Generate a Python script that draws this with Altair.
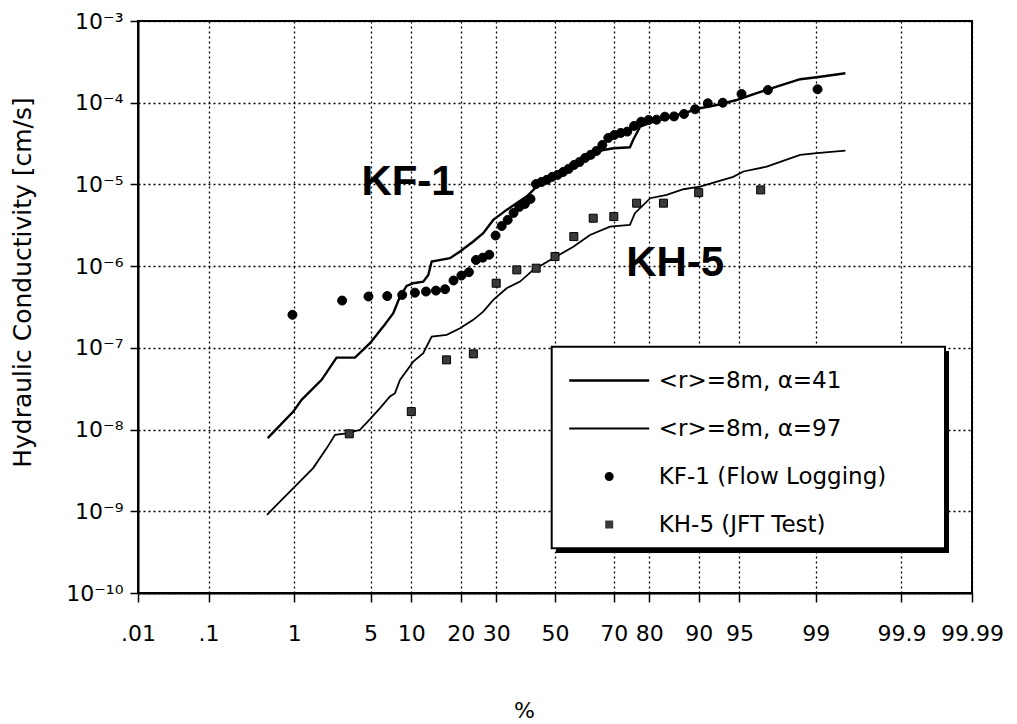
import altair as alt
import pandas as pd
from statistics import NormalDist

SERIES = ["<r>=8m, α=41", "<r>=8m, α=97", "KF-1 (Flow Logging)", "KH-5 (JFT Test)"]

# simulated curve <r>=8m, alpha=41 (percent, K in cm/s)
A41_P = [0.52, 0.98, 1.19, 1.87, 2.57, 3.72, 4.95, 6.28, 7.46, 8.34, 9.29, 10.31, 12.0, 12.92,
         13.57, 17.44, 19.85, 23.3, 26.1, 29.1, 33.3, 40.0, 43.5, 49.4, 56.5, 61.1, 66.7, 69.9,
         74.8, 75.7, 77.6, 81.0, 87.4, 90.2, 92.54, 94.75, 96.4, 97.6, 98.56, 99.02, 99.52]
A41_K = [7.85e-9, 1.66e-8, 2.31e-8, 4.06e-8, 7.6e-8, 7.6e-8, 1.14e-7, 1.82e-7, 2.66e-7, 4.25e-7,
         5.73e-7, 6.18e-7, 6.47e-7, 7.82e-7, 1.14e-6, 1.25e-6, 1.51e-6, 2.0e-6, 2.53e-6, 3.68e-6,
         4.88e-6, 7.1e-6, 9.4e-6, 1.19e-5, 1.73e-5, 2.19e-5, 2.64e-5, 2.77e-5, 2.85e-5, 3.5e-5,
         5.09e-5, 5.86e-5, 7.43e-5, 8.55e-5, 9.38e-5, 1.08e-4, 1.31e-4, 1.57e-4, 1.94e-4, 2.05e-4,
         2.29e-4]

# simulated curve <r>=8m, alpha=97
A97_P = [0.51, 0.98, 1.55, 2.09, 2.49, 3.26, 4.10, 4.95, 5.93, 7.05, 7.68, 8.34, 10.31, 12.0,
         13.57, 16.7, 19.84, 23.3, 26.1, 29.1, 33.3, 37.75, 42.3, 49.4, 56.5, 62.25, 68.8, 74.8,
         76.2, 80.2, 84.05, 87.4, 90.2, 94.4, 95.35, 97.05, 98.56, 99.02, 99.52]
A97_K = [9.06e-10, 1.92e-9, 3.38e-9, 5.93e-9, 8.63e-9, 9.05e-9, 9.94e-9, 1.34e-8, 1.83e-8,
         2.54e-8, 2.79e-8, 4.06e-8, 6.79e-8, 8.6e-8, 1.37e-7, 1.44e-7, 1.74e-7, 2.2e-7, 2.78e-7,
         3.86e-7, 5.37e-7, 6.47e-7, 9.0e-7, 1.25e-6, 1.73e-6, 2.41e-6, 3.05e-6, 3.2e-6, 4.45e-6,
         6.78e-6, 7.45e-6, 8.73e-6, 9.4e-6, 1.24e-5, 1.44e-5, 1.65e-5, 2.3e-5, 2.41e-5, 2.59e-5]

# KF-1 flow logging measurements
KF1_P = [0.96, 2.88, 4.81, 6.73, 8.65, 10.58, 12.50, 14.42, 16.35, 18.27, 20.19, 22.12, 24.04,
         25.96, 27.88, 29.81, 31.73, 33.65, 35.58, 37.50, 39.42, 41.35, 43.27, 45.19, 47.12,
         49.04, 50.96, 52.88, 54.81, 56.73, 58.65, 60.58, 62.50, 64.42, 66.35, 68.27, 70.19,
         72.12, 74.04, 75.96, 77.88, 79.81, 81.73, 83.65, 85.58, 87.50, 89.42, 91.35, 93.27,
         95.19, 97.12, 99.04]
KF1_K = [2.54e-7, 3.79e-7, 4.25e-7, 4.3e-7, 4.45e-7, 4.74e-7, 4.89e-7, 5.02e-7, 5.22e-7, 6.67e-7,
         7.67e-7, 8.43e-7, 1.19e-6, 1.27e-6, 1.38e-6, 2.37e-6, 3.10e-6, 3.68e-6, 4.48e-6, 5.31e-6,
         5.77e-6, 6.65e-6, 1.01e-5, 1.07e-5, 1.14e-5, 1.24e-5, 1.31e-5, 1.42e-5, 1.55e-5, 1.73e-5,
         1.88e-5, 2.11e-5, 2.30e-5, 2.57e-5, 3.04e-5, 3.71e-5, 4.04e-5, 4.27e-5, 4.43e-5, 5.20e-5,
         5.86e-5, 6.15e-5, 6.2e-5, 6.75e-5, 6.8e-5, 7.28e-5, 8.32e-5, 9.84e-5, 1.00e-4, 1.28e-4,
         1.43e-4, 1.46e-4]

# KH-5 JFT test measurements
KH5_P = [3.33, 10.0, 16.67, 23.33, 30.0, 36.67, 43.33, 50.0, 56.67, 63.33, 70.0, 76.67, 83.33,
         90.0, 96.67]
KH5_K = [8.87e-9, 1.66e-8, 7.13e-8, 8.45e-8, 6.18e-7, 9.0e-7, 9.44e-7, 1.31e-6, 2.30e-6, 3.86e-6,
         4.04e-6, 5.89e-6, 5.9e-6, 7.94e-6, 8.57e-6]

X_TICK_PCT = [0.01, 0.1, 1, 5, 10, 20, 30, 50, 70, 80, 90, 95, 99, 99.9, 99.99]
Y_TICKS = [1e-10, 1e-9, 1e-8, 1e-7, 1e-6, 1e-5, 1e-4, 1e-3]
Y_EXP = ["⁻¹⁰", "⁻⁹", "⁻⁸", "⁻⁷", "⁻⁶", "⁻⁵", "⁻⁴", "⁻³"]

ANNOT_TEXT = ["KF-1", "KH-5"]
ANNOT_P = [9.5, 85.8]
ANNOT_K = [1.07e-5, 1.1e-6]

# legend / marker symbols (unit-square SVG paths)
LINE41_PATH = "M-4,-0.12H4V0.12H-4Z"
LINE97_PATH = "M-4,-0.09H4V0.09H-4Z"
CIRCLE_PATH = "M0.45,0A0.45,0.45,0,1,1,-0.45,0A0.45,0.45,0,1,1,0.45,0Z"
SQUARE_PATH = "M-0.4,-0.4H0.4V0.4H-0.4Z"
SHAPES = [LINE41_PATH, LINE97_PATH, CIRCLE_PATH, SQUARE_PATH]
FILLS = ["black", "black", "black", "#3a3a3a"]

nd = NormalDist()
x_tick_z = [nd.inv_cdf(p / 100.0) for p in X_TICK_PCT]
z_min, z_max = x_tick_z[0], x_tick_z[-1]

lines_df = pd.concat([
    pd.DataFrame({"series": SERIES[0], "p": A41_P, "K": A41_K}),
    pd.DataFrame({"series": SERIES[1], "p": A97_P, "K": A97_K}),
])
points_df = pd.concat([
    pd.DataFrame({"series": SERIES[2], "p": KF1_P, "K": KF1_K}),
    pd.DataFrame({"series": SERIES[3], "p": KH5_P, "K": KH5_K}),
])
annot_df = pd.DataFrame({"label": ANNOT_TEXT, "p": ANNOT_P, "K": ANNOT_K})
frame_df = pd.DataFrame({"part": ["legend box"]})

FONT = "DejaVu Sans"

x_label_expr = (
    "cumulativeNormal(datum.value) < 0.005 ? "
    "substring(toString(round(cumulativeNormal(datum.value) * 1000000) / 10000), 1) : "
    "toString(round(cumulativeNormal(datum.value) * 1000000) / 10000)"
)
y_label_expr = "'10' + " + str(Y_EXP) + "[round(log(datum.value) / LN10) + 10]"

x_axis = alt.Axis(
    values=x_tick_z, labelExpr=x_label_expr, labelFont=FONT, labelFontSize=22,
    labelColor="black", labelPadding=21, labelOverlap=False, labelFlush=False,
    tickSize=9, tickColor="black", tickWidth=1.5, domainColor="black", domainWidth=2,
    grid=True, gridColor="black", gridDash=[2, 3], gridWidth=1.3, gridOpacity=1,
    title="%", titleFont=FONT, titleFontSize=22, titleFontWeight="normal", titleColor="black",
    titleX=386, titleY=117, titleBaseline="middle", titleAlign="center",
)
y_axis = alt.Axis(
    values=Y_TICKS, labelExpr=y_label_expr, labelFont=FONT, labelFontSize=22,
    labelColor="black", labelPadding=7, labelOverlap=False, labelFlush=False,
    tickSize=8, tickColor="black", tickWidth=1.5, domainColor="black", domainWidth=2,
    grid=True, gridColor="black", gridDash=[2, 3], gridWidth=1.3, gridOpacity=1,
    title="Hydraulic Conductivity [cm/s]", titleFont=FONT, titleFontSize=25,
    titleFontWeight="normal", titleColor="black",
    titleX=-116, titleY=261, titleAngle=270, titleBaseline="middle", titleAlign="center",
)


def xenc():
    return alt.X("z:Q", scale=alt.Scale(domain=[z_min, z_max], nice=False, zero=False), axis=x_axis)


def yenc():
    return alt.Y("K:Q", scale=alt.Scale(type="log", domain=[1e-10, 1e-3], nice=False), axis=y_axis)


legend = alt.Legend(
    orient="none", legendX=413.7, legendY=332, direction="vertical", title=None,
    padding=16, rowPadding=24,
    labelFont=FONT, labelFontSize=23, labelColor="black", labelLimit=400,
    labelOffset=38, symbolOffset=30, symbolSize=400,
    symbolStrokeColor="black", symbolStrokeWidth=1,
)

calc = "quantileNormal(datum.p / 100)"

# legend frame with drop shadow (decoration)
shadow = alt.Chart(frame_df).mark_rect(color="black").encode(
    x=alt.value(418), x2=alt.value(811), y=alt.value(330), y2=alt.value(532)
)
box = alt.Chart(frame_df).mark_rect(fill="white", stroke="black", strokeWidth=2).encode(
    x=alt.value(413.7), x2=alt.value(807), y=alt.value(325.7), y2=alt.value(527.3)
)

lines = alt.Chart(lines_df).transform_calculate(z=calc).mark_line(color="black").encode(
    x=xenc(), y=yenc(), detail="series:N",
    strokeWidth=alt.StrokeWidth("series:N", scale=alt.Scale(domain=SERIES[:2], range=[2.4, 1.8]), legend=None),
)

points = alt.Chart(points_df).transform_calculate(z=calc).mark_point(
    filled=True, size=400, stroke="black", strokeWidth=1, opacity=1
).encode(
    x=xenc(), y=yenc(),
    shape=alt.Shape("series:N", scale=alt.Scale(domain=SERIES, range=SHAPES), legend=legend),
    fill=alt.Fill("series:N", scale=alt.Scale(domain=SERIES, range=FILLS), legend=legend),
)

annot = alt.Chart(annot_df).transform_calculate(z=calc).mark_text(
    font="Liberation Sans", fontSize=42, fontWeight="bold", color="black",
    align="center", baseline="middle",
).encode(x=xenc(), y=yenc(), text="label:N")

chart = alt.layer(lines, points, annot, shadow, box).properties(
    width=834, height=572,
    autosize=alt.AutoSizeParams(type="none"),
    padding={"left": 138, "top": 21, "right": 45, "bottom": 131},
).configure_view(stroke="black", strokeWidth=2)

chart.save("out.html", embed_options={"renderer": "svg", "actions": False})
